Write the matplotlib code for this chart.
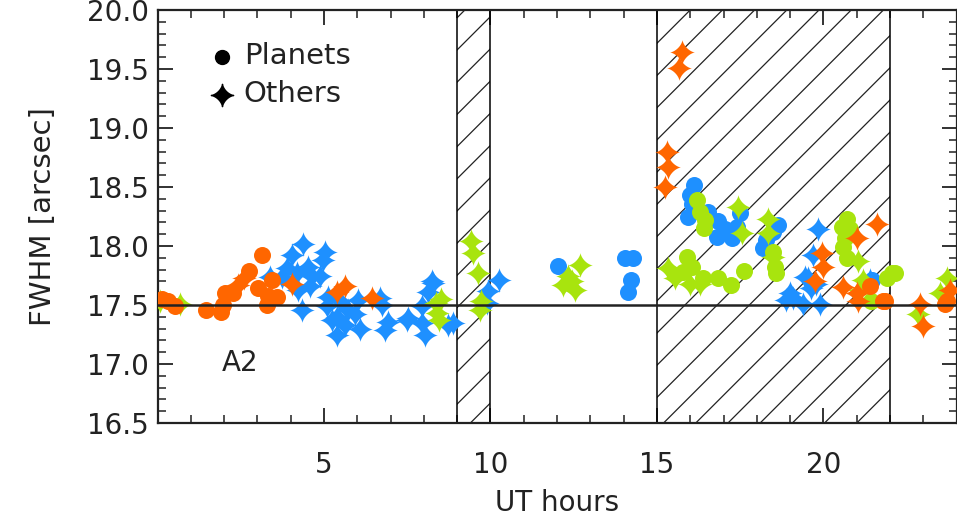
import numpy as np
import matplotlib
matplotlib.use("Agg")
import matplotlib.pyplot as plt
from matplotlib.path import Path
from matplotlib.patches import Rectangle

# ---------------- data ----------------
# Planets (circles)
planet_orange_x = [0.14, 0.32, 0.53, 1.45, 1.91, 1.96, 2.03, 2.28, 2.76, 3.13, 3.01, 3.43, 3.28, 3.33, 3.60,
                   21.40, 21.80, 21.85, 23.65, 23.70]
planet_orange_y = [17.55, 17.53, 17.49, 17.46, 17.44, 17.50, 17.60, 17.60, 17.79, 17.92, 17.64, 17.71, 17.50, 17.58, 17.57,
                   17.66, 17.53, 17.53, 17.51, 17.53]

planet_blue_x = [12.02, 14.04, 14.29, 14.21, 14.14, 16.12, 15.99, 16.04, 15.92, 16.54, 16.84, 16.79, 17.24, 17.39,
                 17.49, 18.64, 18.49, 18.29, 18.19, 17.04, 21.45]
planet_blue_y = [17.83, 17.90, 17.90, 17.71, 17.61, 18.52, 18.43, 18.36, 18.25, 18.29, 18.21, 18.08, 18.07, 18.16,
                 18.28, 18.18, 18.12, 18.05, 17.98, 18.14, 17.71]

planet_green_x = [16.19, 16.29, 16.44, 16.41, 15.89, 16.04, 15.79, 16.39, 16.84, 17.22, 17.61, 18.49, 18.54, 18.59,
                  20.70, 20.55, 20.80, 20.65, 20.58, 20.70, 21.90, 22.15, 21.42, 22.05]
planet_green_y = [18.39, 18.29, 18.22, 18.15, 17.91, 17.82, 17.78, 17.73, 17.73, 17.67, 17.79, 17.95, 17.82, 17.77,
                  18.23, 18.16, 18.14, 18.07, 17.99, 17.90, 17.73, 17.77, 17.53, 17.77]

# Others (stars)
other_orange_x = [2.41, 2.61, 4.03, 5.38, 5.63, 6.45, 15.29, 15.34, 15.24, 15.75, 15.65,
                  19.95, 20.00, 19.74, 20.59, 21.05, 21.60, 21.00, 22.90, 22.98, 23.80, 21.00]
other_orange_y = [17.67, 17.73, 17.68, 17.61, 17.66, 17.56, 18.80, 18.67, 18.50, 19.64, 19.51,
                  17.94, 17.82, 17.70, 17.65, 17.53, 18.19, 18.07, 17.51, 17.32, 17.63, 17.60]

other_blue_x = [4.38, 4.03, 5.03, 4.98, 4.53, 3.88, 3.38, 3.73, 4.18, 4.63, 4.88, 4.23, 4.58, 4.33, 5.13, 5.08,
                5.48, 5.73, 6.03, 5.23, 5.38, 5.63, 5.93, 6.08, 6.73, 6.93, 6.83, 7.53, 7.93, 8.03, 8.23, 8.13,
                7.93, 8.73, 5.38, 6.68, 7.48, 8.88, 8.28, 9.93, 10.25, 9.90,
                19.85, 19.70, 19.55, 19.10, 19.40, 18.89, 19.89, 21.40, 19.79, 19.44, 19.64, 18.99]
other_blue_y = [18.02, 17.92, 17.95, 17.88, 17.82, 17.81, 17.74, 17.74, 17.77, 17.75, 17.75, 17.63, 17.66, 17.46,
                17.57, 17.49, 17.53, 17.46, 17.54, 17.37, 17.25, 17.33, 17.42, 17.30, 17.50, 17.36, 17.29, 17.39,
                17.35, 17.25, 17.70, 17.61, 17.49, 17.33, 17.40, 17.56, 17.37, 17.35, 17.69, 17.62, 17.71, 17.52,
                18.14, 17.92, 17.73, 17.56, 17.51, 17.54, 17.51, 17.71, 17.68, 17.74, 17.64, 17.60]

other_green_x = [0.08, 0.68, 8.35, 8.50, 8.40, 8.45, 9.43, 9.48, 9.63, 9.73, 9.68, 12.69, 12.34, 12.19, 12.54,
                 12.44, 17.44, 17.54, 18.34, 18.34, 18.49, 15.34, 15.54, 15.99, 16.29, 21.05, 21.20, 21.10,
                 23.70, 23.50, 22.85]
other_green_y = [17.53, 17.51, 17.52, 17.55, 17.43, 17.37, 18.04, 17.94, 17.77, 17.53, 17.46, 17.84, 17.75, 17.67,
                 17.63, 17.70, 18.33, 18.11, 18.23, 18.11, 17.91, 17.81, 17.73, 17.68, 17.68, 17.87, 17.71, 17.63,
                 17.73, 17.60, 17.42]

shaded_spans = [(9.0, 10.0), (15.0, 22.0)]
reference_level = 17.5
x_ticks = [5, 10, 15, 20]
y_ticks = [16.5, 17.0, 17.5, 18.0, 18.5, 19.0, 19.5, 20.0]

ORANGE = "#FF6600"
BLUE = "#1E90FF"
GREEN = "#A8E40E"

# 4-point star marker with concave sides
t = np.linspace(0, 2 * np.pi, 161)
p = 3.0
sx = np.sign(np.cos(t)) * np.abs(np.cos(t)) ** p
sy = np.sign(np.sin(t)) * np.abs(np.sin(t)) ** p
star = Path(np.column_stack([sx, sy]), closed=True)

plt.rcParams['font.family'] = ['DejaVu Sans']
fig = plt.figure(figsize=(9.57, 5.15), dpi=100)
ax = fig.add_axes([0.1646, 0.1786, 0.835, 0.802])
ax.set_xlim(0, 24)
ax.set_ylim(16.5, 20.0)

# shaded (hatched) spans
px_per_h = 0.835 * 957 / 24.0
px_per_u = 0.802 * 515 / 3.5
slope = px_per_h / px_per_u
for (a, b) in shaded_spans:
    rect = Rectangle((a, 16.5), b - a, 3.5, fill=False, edgecolor="black", lw=1.1, zorder=2)
    ax.add_patch(rect)
    for k in range(-20, 20):
        x0 = 15.09 + k * 0.967
        xs = [x0 + (16.5 - 17.288) / slope, x0 + (20.0 - 17.288) / slope]
        ln, = ax.plot(xs, [16.5, 20.0], color="#222222", lw=0.9, zorder=1)
        ln.set_clip_path(rect)

CS = 150
SS = 330
ax.scatter(other_blue_x, other_blue_y, marker=star, s=SS, color=BLUE, lw=0, zorder=3)
ax.scatter(planet_blue_x, planet_blue_y, marker='o', s=CS, color=BLUE, lw=0, zorder=3)
ax.scatter(other_green_x, other_green_y, marker=star, s=SS, color=GREEN, lw=0, zorder=3)
ax.scatter(planet_green_x, planet_green_y, marker='o', s=CS, color=GREEN, lw=0, zorder=3)
ax.scatter(other_orange_x, other_orange_y, marker=star, s=SS, color=ORANGE, lw=0, zorder=3)
ax.scatter(planet_orange_x, planet_orange_y, marker='o', s=CS, color=ORANGE, lw=0, zorder=3)

ax.axhline(reference_level, color="#222222", lw=1.8, zorder=5)

# legend-like annotation
ax.scatter([0.081], [0.886], marker='o', s=100, color="black", transform=ax.transAxes, zorder=6, clip_on=False)
ax.scatter([0.081], [0.794], marker=star, s=260, color="black", transform=ax.transAxes, zorder=6, clip_on=False)
ax.text(0.108, 0.888, "Planets", transform=ax.transAxes, fontsize=21, va="center", ha="left", color="#222222")
ax.text(0.108, 0.796, "Others", transform=ax.transAxes, fontsize=21, va="center", ha="left", color="#222222")
ax.text(0.081, 0.145, "A2", transform=ax.transAxes, fontsize=20, va="center", ha="left", color="#222222")

ax.set_xticks(x_ticks)
ax.set_xticks(np.arange(1, 24), minor=True)
ax.set_yticks(y_ticks)
ax.set_yticklabels([f"{v:.1f}" for v in y_ticks])
ax.set_yticks(np.arange(16.5, 20.0001, 0.1), minor=True)
ax.tick_params(which="both", direction="in", top=True, right=True, colors="#222222", labelcolor="#222222")
ax.tick_params(which="major", length=11, width=1.3, labelsize=20)
ax.tick_params(which="minor", length=5.5, width=1.1)
ax.tick_params(axis="x", which="major", pad=20)
ax.tick_params(axis="y", which="major", pad=6)
for s in ax.spines.values():
    s.set_linewidth(1.6)
    s.set_color("#222222")

ax.set_xlabel("UT hours", fontsize=20, color="#222222", labelpad=7)
ax.set_ylabel("FWHM [arcsec]", fontsize=21, color="#222222", labelpad=22)

fig.savefig("out.png", dpi=100)
